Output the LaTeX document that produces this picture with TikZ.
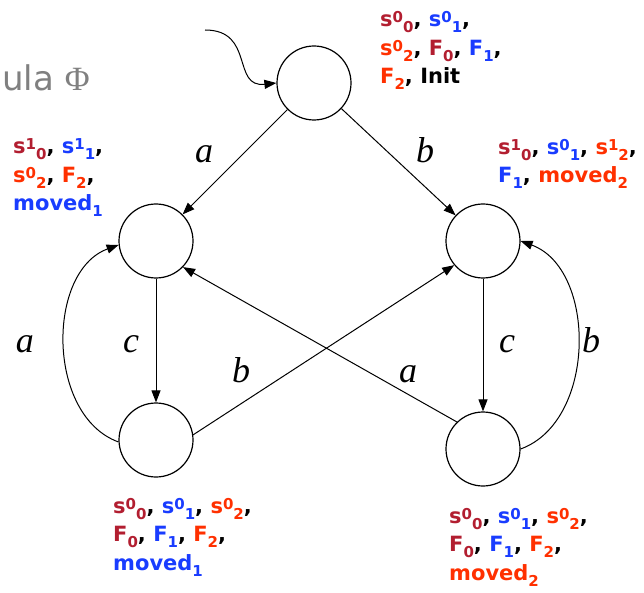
\documentclass[tikz,border=0pt]{standalone}
\usepackage{fontspec}
\setmainfont{Liberation Serif}
\newfontfamily\tagfont{DejaVu Sans}
\usepackage{xcolor}
\definecolor{sred}{RGB}{178,30,48}
\definecolor{sblue}{RGB}{25,60,255}
\definecolor{sorange}{RGB}{255,48,0}
\definecolor{sgray}{RGB}{128,128,128}
\usetikzlibrary{arrows.meta}
% raised and lowered indices
\newcommand{\hi}[1]{\raisebox{4pt}{\fontsize{15}{15}\selectfont #1}}
\newcommand{\lo}[1]{\raisebox{-6pt}{\fontsize{15}{15}\selectfont #1}}
\newcommand{\sv}[3]{\textcolor{#1}{s\hi{#2}\lo{#3}}}
\newcommand{\fv}[2]{\textcolor{#1}{F\lo{#2}}}
\newcommand{\mv}[2]{\textcolor{#1}{moved\lo{#2}}}
\tikzset{
  state/.style={circle, draw, line width=1.2pt, minimum size=74pt, inner sep=0pt},
  edge/.style={-{Triangle[length=12pt,width=9pt]}, line width=1pt},
  lab/.style={font=\fontsize{36}{36}\selectfont\itshape, anchor=base, inner sep=0pt},
  tag/.style={font=\tagfont\bfseries\fontsize{21}{28.5}\selectfont, align=left, anchor=base west, inner sep=0pt}
}

\begin{document}
\begin{tikzpicture}[x=1pt, y=1pt]
  \useasboundingbox (0,0) rectangle (644,592);
  \node[font=\tagfont\fontsize{34}{34}\selectfont, text=sgray, anchor=base west, inner sep=0pt] (formula) at (2,501) {ula {\rmfamily Φ}};
  % states
  \node[state] (top) at (314,509) {};
  \node[state] (l) at (156,351) {};
  \node[state] (r) at (483,351) {};
  \node[state] (bl) at (156,152) {};
  \node[state] (br) at (483,143) {};
  % initial arrow
  \coordinate (start) at (205,562);
  \draw[edge] (start) .. controls +(50,0) and +(-45,-5) .. (top.west);
  % transitions
  \draw[edge] (top) -- (l);
  \draw[edge] (top) -- (r);
  \draw[edge] (l) -- (bl);
  \draw[edge] (r) -- (br);
  \draw[edge] (bl.8) -- (r.220);
  \draw[edge] (br.134) -- (l.316);
  \draw[edge] (bl.183) to[out=160, in=200] (l.186);
  \draw[edge] (br.east) to[out=20, in=-20] (r.east);
  % transition labels
  \node[lab] (la1) at (204,429) {a};
  \node[lab] (lb1) at (425,429) {b};
  \node[lab] (la2) at (25,240) {a};
  \node[lab] (lc1) at (131,240) {c};
  \node[lab] (lb2) at (241,210) {b};
  \node[lab] (la3) at (408,210) {a};
  \node[lab] (lc2) at (507,240) {c};
  \node[lab] (lb3) at (591,240) {b};
  % state labels (placed at the baseline of their last line)
  \node[tag] (ttop) at (380,508) {\sv{sred}{0}{0}, \sv{sblue}{0}{1},\\
    \sv{sorange}{0}{2}, \fv{sred}{0}, \fv{sblue}{1},\\
    \fv{sorange}{2}, Init};
  \node[tag] (tl) at (13,381) {\sv{sred}{1}{0}, \sv{sblue}{1}{1},\\
    \sv{sorange}{0}{2}, \fv{sorange}{2},\\
    \mv{sblue}{1}};
  \node[tag] (tr) at (498,409) {\sv{sred}{1}{0}, \sv{sblue}{0}{1}, \sv{sorange}{1}{2},\\
    \fv{sblue}{1}, \mv{sorange}{2}};
  \node[tag] (tbl) at (113,22) {\sv{sred}{0}{0}, \sv{sblue}{0}{1}, \sv{sorange}{0}{2},\\
    \fv{sred}{0}, \fv{sblue}{1}, \fv{sorange}{2},\\
    \mv{sblue}{1}};
  \node[tag] (tbr) at (449,12) {\sv{sred}{0}{0}, \sv{sblue}{0}{1}, \sv{sorange}{0}{2},\\
    \fv{sred}{0}, \fv{sblue}{1}, \fv{sorange}{2},\\
    \mv{sorange}{2}};
\end{tikzpicture}
\end{document}
